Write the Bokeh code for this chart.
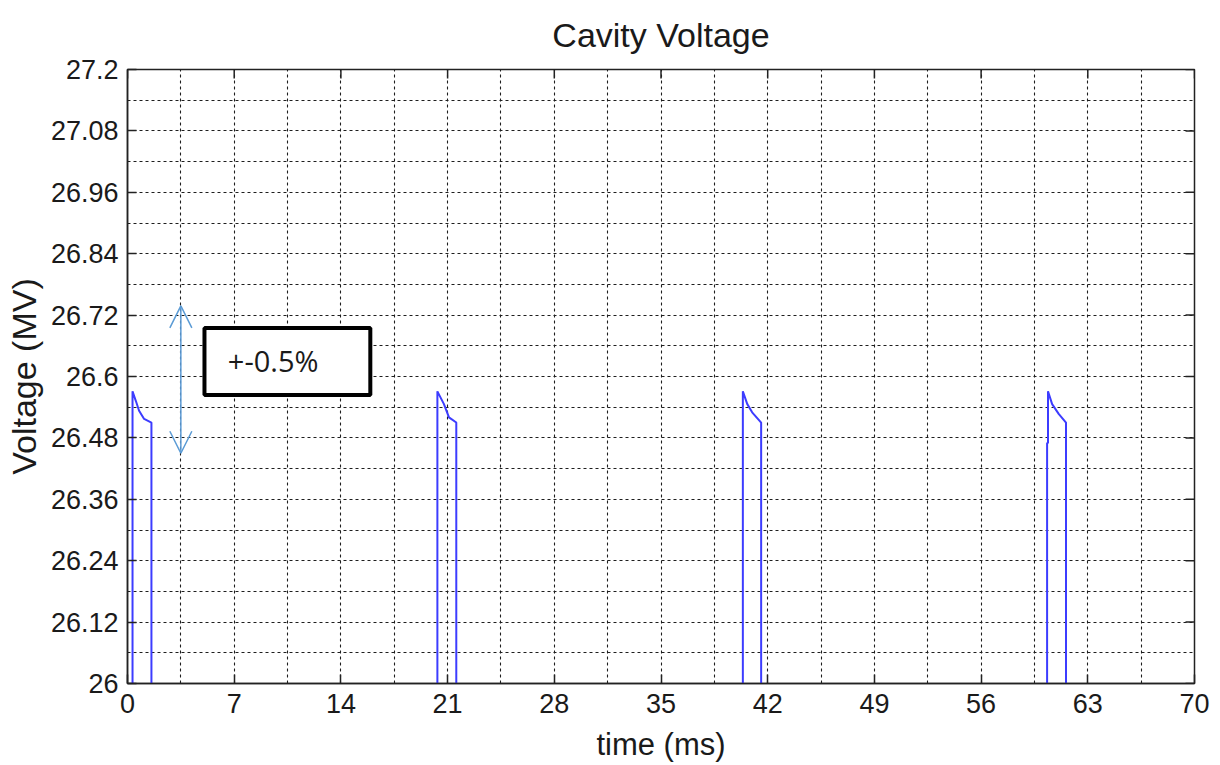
from bokeh.plotting import figure
from bokeh.models import (FixedTicker, Range1d, Arrow, OpenHead,
                          BoxAnnotation, Label, NumeralTickFormatter)
from bokeh.embed import file_html
from bokeh.resources import INLINE

# ---------------- data ----------------
title_text = "Cavity Voltage"
x_ticks = [0, 7, 14, 21, 28, 35, 42, 49, 56, 63, 70]
y_ticks = [26.0, 26.12, 26.24, 26.36, 26.48, 26.6, 26.72, 26.84, 26.96, 27.08, 27.2]

pulse1_t = [0.33, 0.33, 0.55, 0.76, 1.09, 1.57, 1.57]
pulse1_v = [26.0, 26.571, 26.552, 26.533, 26.517, 26.51, 26.0]

pulse2_t = [20.33, 20.33, 20.76, 21.09, 21.57, 21.57]
pulse2_v = [26.0, 26.571, 26.546, 26.52, 26.51, 26.0]

pulse3_t = [40.37, 40.37, 40.66, 40.98, 41.57, 41.57]
pulse3_v = [26.0, 26.571, 26.546, 26.53, 26.51, 26.0]

pulse4_t = [60.33, 60.33, 60.39, 60.39, 60.66, 61.09, 61.57, 61.57]
pulse4_v = [26.0, 26.47, 26.47, 26.571, 26.546, 26.527, 26.51, 26.0]

pulses = [(pulse1_t, pulse1_v), (pulse2_t, pulse2_v),
          (pulse3_t, pulse3_v), (pulse4_t, pulse4_v)]

# annotation: double arrow (+-0.5%) and text box
arrow_t = 3.5
arrow_low = 26.450
arrow_high = 26.738
box_left, box_right = 5.05, 15.93
box_bottom, box_top = 26.564, 26.695
note_text = "+-0.5%"
note_t, note_v = 6.58, 26.631

FONT = "Liberation Sans"
X0, X1 = 0, 70
Y0, Y1 = 26.0, 27.2
FRAME_W, FRAME_H = 1067, 614
B_LEFT, B_RIGHT, B_TOP, B_BOTTOM = 127, 26, 69, 82
TICK_PX = 9

p = figure(width=B_LEFT + FRAME_W + B_RIGHT, height=B_TOP + FRAME_H + B_BOTTOM,
           x_range=Range1d(X0, X1), y_range=Range1d(Y0, Y1),
           output_backend="svg", toolbar_location=None,
           min_border_left=B_LEFT, min_border_right=B_RIGHT,
           min_border_top=B_TOP, min_border_bottom=B_BOTTOM,
           background_fill_color="white", border_fill_color="white")

p.title.text = title_text
p.title.align = "center"
p.title.vertical_align = "top"
p.title.text_font = FONT
p.title.text_font_size = "34px"
p.title.text_font_style = "normal"
p.title.text_color = "#1a1a1a"
p.title.standoff = 27

p.outline_line_color = "#222222"
p.outline_line_width = 1.5
p.outline_line_alpha = 1

# main axes
for ax in (p.xaxis[0], p.yaxis[0]):
    ax.major_tick_in = TICK_PX
    ax.major_tick_out = 0
    ax.minor_tick_in = 0
    ax.minor_tick_out = 0
    ax.axis_line_color = "#222222"
    ax.axis_line_width = 1.5
    ax.major_tick_line_color = "#222222"
    ax.major_tick_line_width = 1.5
    ax.major_label_text_font = FONT
    ax.major_label_text_font_size = "27px"
    ax.major_label_text_color = "#1a1a1a"
    ax.axis_label_text_font = FONT
    ax.axis_label_text_font_style = "normal"
    ax.axis_label_text_color = "#1a1a1a"

p.xaxis.axis_label_text_font_size = "31px"
p.yaxis.axis_label_text_font_size = "34px"
p.xaxis.ticker = FixedTicker(ticks=x_ticks)
p.yaxis.ticker = FixedTicker(ticks=y_ticks)
p.yaxis.formatter = NumeralTickFormatter(format="0.[00]")
p.xaxis.axis_label = "time (ms)"
p.yaxis.axis_label = "Voltage (MV)"
p.xaxis.major_label_standoff = 10
p.yaxis.major_label_standoff = 9
p.xaxis.axis_label_standoff = 11
p.yaxis.axis_label_standoff = 5

# grid (major + intermediate lines)
x_grid = [t / 2 for t in range(0, 141, 7)]
y_grid = [Y0 + k * 0.06 for k in range(21)]
p.xgrid.ticker = FixedTicker(ticks=x_grid)
p.ygrid.ticker = FixedTicker(ticks=y_grid)
for g in (p.xgrid[0], p.ygrid[0]):
    g.grid_line_color = "#1e1e1e"
    g.grid_line_dash = "3 3"
    g.grid_line_width = 1.1
    g.grid_line_alpha = 1

# inward ticks on the top and right edges of the box (MATLAB style)
dy_tick = TICK_PX * (Y1 - Y0) / FRAME_H
dx_tick = TICK_PX * (X1 - X0) / FRAME_W
p.segment(x0=x_ticks, y0=[Y1] * len(x_ticks), x1=x_ticks, y1=[Y1 - dy_tick] * len(x_ticks),
          line_color="#222222", line_width=1.5)
p.segment(x0=[X1] * len(y_ticks), y0=y_ticks, x1=[X1 - dx_tick] * len(y_ticks), y1=y_ticks,
          line_color="#222222", line_width=1.5)

for t, v in pulses:
    p.line(t, v, line_color="#3c3cff", line_width=2)

arrow_color = "#5b9bd5"
p.add_layout(Arrow(x_start=arrow_t, y_start=arrow_low, x_end=arrow_t, y_end=arrow_high,
                   start=OpenHead(size=22, line_color=arrow_color, line_width=1.5),
                   end=OpenHead(size=22, line_color=arrow_color, line_width=1.5),
                   line_color=arrow_color, line_width=1.5))

p.add_layout(BoxAnnotation(left=box_left, right=box_right, bottom=box_bottom, top=box_top,
                           fill_color="white", fill_alpha=1,
                           line_color="black", line_width=4, line_alpha=1))
p.add_layout(Label(x=note_t, y=note_v, text=note_text, text_font="Open Sans",
                   text_font_size="29px", text_baseline="middle",
                   text_color="#1a1a1a"))

open("out.html", "w").write(file_html(p, INLINE))
